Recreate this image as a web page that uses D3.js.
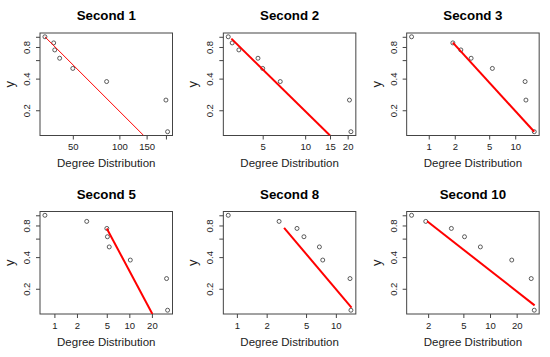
<!DOCTYPE html>
<html>
<head>
<meta charset="utf-8">
<script src="https://cdnjs.cloudflare.com/ajax/libs/d3/7.8.5/d3.min.js"></script>
<style>
  body { margin: 0; background: #fff; }
  text { font-family: "Liberation Sans", Arial, sans-serif; }
</style>
</head>
<body>
<div id="plot-container"></div>
<script>
// chart values
var titles = ["Second 1", "Second 2", "Second 3", "Second 5", "Second 8", "Second 10"];
var yShare = [1, 0.875, 0.75, 0.625, 0.5, 0.375, 0.25, 0.125];
var degrees = [
  [33, 37.6, 38.2, 41.1, 50, 82.7, 200, 205],
  [2.85, 3.04, 3.39, 4.63, 5.0, 6.66, 20.6, 21.1],
  [0.633, 1.9, 2.35, 3.09, 5.44, 13.0, 13.3, 16.6],
  [0.747, 2.7, 5.01, 5.1, 5.39, 10.3, 31.4, 32.4],
  [0.818, 2.67, 4.05, 4.76, 6.82, 7.37, 13.9, 14.2],
  [1.3, 1.88, 3.66, 5.15, 7.78, 17.6, 29.2, 31.6]
];
// fitted line end points [x0, y0, x1, y1]
var fitLines = [
  [33, 1.0, 143.6, 0.115],
  [3.0, 0.96, 15.0, 0.115],
  [1.9, 0.88, 16.6, 0.125],
  [5.0, 0.75, 20.3, 0.115],
  [3.0, 0.76, 14.4, 0.132],
  [1.95, 0.878, 31.9, 0.139]
];
var fitWidths = [1, 2, 2, 2, 2, 2];
var xTicks = [
  [50, 100, 150, 200],
  [5, 10, 15, 20],
  [1, 2, 5, 10],
  [1, 2, 5, 10, 20],
  [1, 2, 5, 10],
  [2, 5, 10, 20]
];
var xTickHidden = [[200], [], [], [], [], []];
var yTicks = [0.2, 0.4, 0.6, 0.8, 1.0];
var yTickLabels = ["0.2", "0.4", "", "0.8", ""];

// plot parameters
var width = 550, height = 357;
var cellW = width / 3, cellH = height / 2;
var box = { left: 40, right: 172.5, top: 33, bottom: 135.5 };

var svg = d3.select("#plot-container")
            .append("svg")
            .attr("width", width)
            .attr("height", height);

// log range padded by 4% like base graphics
function padLog(ext) {
  var a = Math.log(ext[0]), b = Math.log(ext[1]);
  var p = (b - a) * 0.04;
  return [Math.exp(a - p), Math.exp(b + p)];
}

function drawPanel(i) {
  var col = i % 3, row = Math.floor(i / 3);
  var g = svg.append("g")
             .attr("transform", "translate(" + (col * cellW) + "," + (row * cellH) + ")");

  var xScale = d3.scaleLog()
                 .domain(padLog(d3.extent(degrees[i])))
                 .range([box.left, box.right]);
  var yScale = d3.scaleLog()
                 .domain(padLog(d3.extent(yShare)))
                 .range([box.bottom, box.top]);

  g.append("clipPath")
   .attr("id", "clip" + i)
   .append("rect")
   .attr("x", box.left).attr("y", box.top)
   .attr("width", box.right - box.left)
   .attr("height", box.bottom - box.top);

  // axes
  var xAxis = d3.axisBottom(xScale)
                .tickValues(xTicks[i])
                .tickSize(4)
                .tickFormat(function(d) {
                  return xTickHidden[i].indexOf(d) >= 0 ? "" : d;
                });
  var xg = g.append("g")
            .attr("transform", "translate(0," + box.bottom + ")")
            .call(xAxis);
  xg.select(".domain").remove();
  xg.selectAll("line").attr("stroke", "#444");
  xg.selectAll("text")
    .attr("font-size", 9.5)
    .attr("fill", "#222")
    .attr("y", 8);

  var yAxis = d3.axisLeft(yScale)
                .tickValues(yTicks)
                .tickSize(4)
                .tickFormat(function(d, j) { return yTickLabels[j]; });
  var yg = g.append("g")
            .attr("transform", "translate(" + box.left + ",0)")
            .call(yAxis);
  yg.select(".domain").remove();
  yg.selectAll("line").attr("stroke", "#444");
  yg.selectAll("text")
    .attr("font-size", 9.5)
    .attr("fill", "#222")
    .attr("text-anchor", "middle")
    .attr("x", 0)
    .attr("dy", 0)
    .attr("transform", "translate(-10,0) rotate(-90)")
    .attr("y", 0);

  // box
  g.append("rect")
   .attr("x", box.left).attr("y", box.top)
   .attr("width", box.right - box.left)
   .attr("height", box.bottom - box.top)
   .attr("fill", "none")
   .attr("stroke", "#444")
   .attr("stroke-width", 1);

  // points
  g.selectAll("circle.pt")
   .data(degrees[i])
   .enter()
   .append("circle")
   .attr("class", "pt")
   .attr("cx", function(d) { return xScale(d); })
   .attr("cy", function(d, j) { return yScale(yShare[j]); })
   .attr("r", 2)
   .attr("fill", "none")
   .attr("stroke", "#333")
   .attr("stroke-width", 0.8);

  // fitted line
  var f = fitLines[i];
  g.append("line")
   .attr("clip-path", "url(#clip" + i + ")")
   .attr("x1", xScale(f[0])).attr("y1", yScale(f[1]))
   .attr("x2", xScale(f[2])).attr("y2", yScale(f[3]))
   .attr("stroke", "#ff0000")
   .attr("stroke-width", fitWidths[i]);

  // labels
  g.append("text")
   .attr("x", (box.left + box.right) / 2)
   .attr("y", 20)
   .attr("text-anchor", "middle")
   .attr("font-size", 13.3)
   .attr("font-weight", "bold")
   .text(titles[i]);

  g.append("text")
   .attr("x", (box.left + box.right) / 2)
   .attr("y", 167)
   .attr("text-anchor", "middle")
   .attr("font-size", 11.5)
   .attr("fill", "#222")
   .text("Degree Distribution");

  g.append("text")
   .attr("transform", "translate(14," + ((box.top + box.bottom) / 2) + ") rotate(-90)")
   .attr("text-anchor", "middle")
   .attr("font-size", 13)
   .attr("fill", "#222")
   .text("y");
}

titles.forEach(function(t, i) { drawPanel(i); });
</script>
</body>
</html>
